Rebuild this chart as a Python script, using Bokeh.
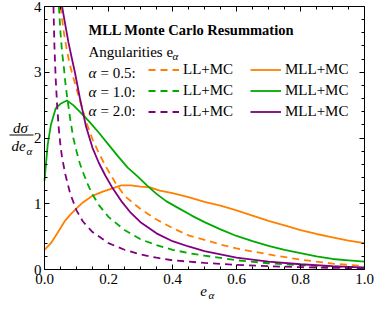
from bokeh.plotting import figure
from bokeh.models import (Label, Legend, LegendItem, LinearAxis, FixedTicker,
                          Range1d, BoxAnnotation)
from bokeh.embed import file_html
from bokeh.resources import INLINE

# ---------------- data ----------------
# alpha = 0.5
x_ll_05 = [0.05, 0.06, 0.07, 0.08, 0.09, 0.10, 0.11, 0.13, 0.15, 0.17, 0.19, 0.22,
           0.25, 0.30, 0.35, 0.40, 0.45, 0.50, 0.55, 0.60, 0.70, 0.80, 0.90, 1.00]
y_ll_05 = [4.0, 3.62, 3.33, 3.1, 2.92, 2.75, 2.58, 2.25, 1.98, 1.77, 1.58, 1.33,
           1.12, 0.92, 0.76, 0.63, 0.52, 0.45, 0.38, 0.32, 0.23, 0.15, 0.09, 0.05]
x_mll_05 = [0.0, 0.02, 0.04, 0.064, 0.08, 0.10, 0.12, 0.15, 0.18, 0.21, 0.24, 0.27,
            0.30, 0.33, 0.36, 0.40, 0.45, 0.50, 0.55, 0.60, 0.65, 0.70, 0.75, 0.80,
            0.85, 0.90, 0.95, 1.00]
y_mll_05 = [0.3, 0.4, 0.55, 0.74, 0.83, 0.93, 1.02, 1.12, 1.18, 1.23, 1.28, 1.28,
            1.26, 1.25, 1.2, 1.16, 1.1, 1.03, 0.97, 0.9, 0.82, 0.74, 0.67, 0.6,
            0.54, 0.49, 0.44, 0.4]
# alpha = 1.0
x_ll_10 = [0.045, 0.05, 0.055, 0.06, 0.065, 0.07, 0.08, 0.09, 0.10, 0.11, 0.12, 0.135,
           0.15, 0.17, 0.20, 0.25, 0.30, 0.35, 0.40, 0.45, 0.50, 0.60, 0.70, 0.80,
           0.90, 1.00]
y_ll_10 = [4.0, 3.6, 3.3, 3.1, 2.85, 2.65, 2.3, 2.0, 1.8, 1.62, 1.48, 1.3,
           1.14, 0.98, 0.8, 0.6, 0.46, 0.37, 0.3, 0.25, 0.21, 0.14, 0.095, 0.065,
           0.045, 0.03]
x_mll_10 = [0.0, 0.01, 0.02, 0.035, 0.05, 0.07, 0.09, 0.11, 0.14, 0.17, 0.20, 0.23,
            0.26, 0.29, 0.32, 0.35, 0.38, 0.42, 0.46, 0.50, 0.55, 0.60, 0.65, 0.70,
            0.75, 0.80, 0.85, 0.90, 0.95, 1.00]
y_mll_10 = [1.35, 1.9, 2.2, 2.45, 2.52, 2.57, 2.5, 2.4, 2.25, 2.08, 1.9, 1.72,
            1.55, 1.42, 1.28, 1.15, 1.04, 0.93, 0.82, 0.72, 0.61, 0.51, 0.43, 0.36,
            0.3, 0.25, 0.2, 0.16, 0.14, 0.12]
# alpha = 2.0
x_ll_20 = [0.028, 0.031, 0.035, 0.04, 0.045, 0.05, 0.055, 0.065, 0.08, 0.10, 0.12,
           0.15, 0.20, 0.25, 0.30, 0.35, 0.40, 0.50, 0.60, 0.70, 0.80, 0.90, 1.00]
y_ll_20 = [4.0, 3.4, 2.9, 2.45, 2.12, 1.88, 1.7, 1.45, 1.16, 0.9, 0.73,
           0.57, 0.4, 0.3, 0.23, 0.18, 0.14, 0.1, 0.07, 0.05, 0.035, 0.025, 0.02]
x_mll_20 = [0.055, 0.065, 0.075, 0.085, 0.095, 0.11, 0.13, 0.15, 0.17, 0.19, 0.21,
            0.24, 0.27, 0.30, 0.35, 0.40, 0.45, 0.50, 0.60, 0.70, 0.80, 0.90, 1.00]
y_mll_20 = [4.0, 3.72, 3.45, 3.22, 3.0, 2.62, 2.17, 1.85, 1.62, 1.43, 1.26,
            1.04, 0.86, 0.72, 0.55, 0.43, 0.35, 0.28, 0.18, 0.12, 0.08, 0.05, 0.03]

alpha_labels = ["= 0.5:", "= 1.0:", "= 2.0:"]
ll_label = "LL+MC"
mll_label = "MLL+MC"
title_text = "MLL Monte Carlo Resummation"
subtitle_text = "Angularities e"

x_min, x_max = 0.0, 1.0
y_min, y_max = 0.0, 4.0
x_major = [0.0, 0.2, 0.4, 0.6, 0.8, 1.0]
x_major_labels = ["0.0", "0.2", "0.4", "0.6", "0.8", "1.0"]
x_minor = [0.05, 0.1, 0.15, 0.25, 0.3, 0.35, 0.45, 0.5, 0.55, 0.65, 0.7, 0.75,
           0.85, 0.9, 0.95]
y_major = [0, 1, 2, 3, 4]
y_major_labels = ["0", "1", "2", "3", "4"]
y_minor = [0.2, 0.4, 0.6, 0.8, 1.2, 1.4, 1.6, 1.8, 2.2, 2.4, 2.6, 2.8,
           3.2, 3.4, 3.6, 3.8]

# ---------------- layout / styling ----------------
ORANGE = "#ff8000"
GREEN = "#00aa00"
PURPLE = "#800080"
SERIF = "Liberation Serif"
LW = 1.8
DASH = "7 5"

W, H = 374, 302
BOX_L, BOX_R, BOX_T, BOX_B = 44, 364, 6, 269   # visible plot box, canvas px

# the Bokeh frame covers the whole canvas; the box is drawn with axes fixed at
# the data limits, so texts placed around the box are not clipped.
kx = (x_max - x_min) / (BOX_R - BOX_L)
ky = (y_max - y_min) / (BOX_B - BOX_T)
xr = Range1d(x_min - BOX_L * kx, x_max + (W - BOX_R) * kx)
yr = Range1d(y_min - (H - BOX_B) * ky, y_max + BOX_T * ky)

p = figure(width=W, height=H, output_backend="svg", toolbar_location=None,
           x_range=xr, y_range=yr, x_axis_location=None, y_axis_location=None,
           min_border=0)
p.background_fill_color = "white"
p.border_fill_color = "white"
p.outline_line_color = None
p.grid.visible = False

xt = FixedTicker(ticks=x_major, minor_ticks=x_minor)
yt = FixedTicker(ticks=y_major, minor_ticks=y_minor)


def make_axis(ticker, ticks, bounds, loc, labels=None):
    ax = LinearAxis(ticker=ticker, bounds=bounds, fixed_location=loc)
    ax.axis_line_color = "black"
    ax.axis_line_width = 1
    ax.major_tick_line_color = "black"
    ax.minor_tick_line_color = "black"
    ax.major_tick_in = 5
    ax.major_tick_out = 0
    ax.minor_tick_in = 3
    ax.minor_tick_out = 0
    ax.major_label_text_font = SERIF
    ax.major_label_text_font_size = "15px"
    ax.major_label_text_color = "black"
    if labels is None:
        ax.major_label_overrides = {v: "" for v in ticks}
        ax.major_label_standoff = 0
    else:
        ax.major_label_overrides = {v: s for v, s in zip(ticks, labels)}
    return ax


bottom_ax = make_axis(xt, x_major, (x_min, x_max), y_min, x_major_labels)
bottom_ax.major_label_standoff = 4
p.add_layout(bottom_ax, "below")
left_ax = make_axis(yt, y_major, (y_min, y_max), x_min, y_major_labels)
left_ax.major_label_standoff = 3
p.add_layout(left_ax, "left")
p.add_layout(make_axis(xt, x_major, (x_min, x_max), y_max), "above")
p.add_layout(make_axis(yt, y_major, (y_min, y_max), x_max), "right")

series = [
    (x_ll_05, y_ll_05, x_mll_05, y_mll_05, ORANGE),
    (x_ll_10, y_ll_10, x_mll_10, y_mll_10, GREEN),
    (x_ll_20, y_ll_20, x_mll_20, y_mll_20, PURPLE),
]
ll_items, mll_items = [], []
for xl, yl, xm, ym, c in series:
    r1 = p.line(xl, yl, line_color=c, line_width=LW, line_dash=DASH)
    r2 = p.line(xm, ym, line_color=c, line_width=LW)
    ll_items.append(LegendItem(label=ll_label, renderers=[r1]))
    mll_items.append(LegendItem(label=mll_label, renderers=[r2]))


def sy(py):          # canvas y (top-down) -> screen units (bottom-up)
    return H - py


def add_label(text, px, py, size="15px", style="normal", align="left"):
    p.add_layout(Label(x=px, y=sy(py), x_units="screen", y_units="screen",
                       text=text, text_font=SERIF, text_font_size=size,
                       text_font_style=style, text_color="black",
                       text_align=align, text_baseline="middle"))


def make_legend(items, px):
    leg = Legend(items=items, location=(px, sy(120)),
                 orientation="vertical", padding=0, margin=0, spacing=4,
                 glyph_width=31, glyph_height=15, label_height=15,
                 label_standoff=4, border_line_color=None,
                 background_fill_alpha=0,
                 label_text_font=SERIF, label_text_font_size="15px",
                 label_text_color="black")
    p.add_layout(leg)


make_legend(ll_items, 148)
make_legend(mll_items, 250)

add_label(title_text, 88, 29, size="14.5px", style="bold")
add_label(subtitle_text, 88, 51)
add_label("α", 172, 55, size="11px", style="italic")
for i, t in enumerate(alpha_labels):
    yy = 72 + 19 * i
    add_label("α", 88, yy, style="italic")
    add_label(t, 100, yy)

# y-axis title: fraction d sigma / d e_alpha
add_label("dσ", 20, 127, style="italic", align="center")
p.add_layout(BoxAnnotation(left=9, right=33, top=sy(134), bottom=sy(135),
                           left_units="screen", right_units="screen",
                           top_units="screen", bottom_units="screen",
                           fill_color="black", fill_alpha=1, line_color=None))
add_label("de", 18, 145, style="italic", align="center")
add_label("α", 26, 150, size="11px", style="italic")

# x-axis title e_alpha
add_label("e", 203, 290, style="italic", align="center")
add_label("α", 208, 294, size="11px", style="italic")

open("out.html", "w").write(file_html(p, INLINE))
